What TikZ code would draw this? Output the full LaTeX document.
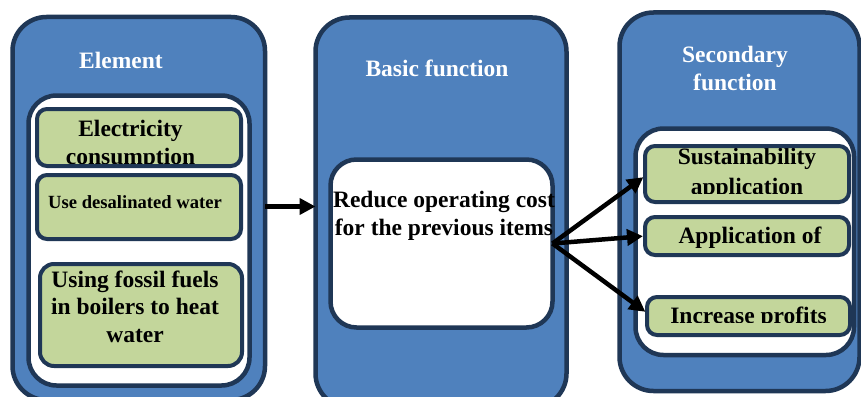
\documentclass[tikz,border=0pt]{standalone}
\usepackage{fontspec}
\setmainfont{Liberation Serif}
\usetikzlibrary{arrows.meta}
\definecolor{bluefill}{HTML}{4F81BD}
\definecolor{navy}{HTML}{1F3756}
\definecolor{greenfill}{HTML}{C3D69B}
\newcommand\bigtxt{\fontsize{23.5}{27.5}\selectfont\bfseries}
\newcommand\smalltxt{\fontsize{18.6}{22}\selectfont\bfseries}
\tikzset{
  panel/.style={draw=navy, line width=4.5pt, anchor=north west, inner sep=0pt, outer sep=0pt},
  bluebox/.style={panel, fill=bluefill, rounded corners=34pt},
  whitebox/.style={panel, fill=white, rounded corners=28pt},
  greenbox/.style={panel, line width=4pt, fill=greenfill, rounded corners=10pt},
  titletxt/.style={text=white, font=\bigtxt, align=center, inner sep=0pt, anchor=base},
  bodytxt/.style={text=black, font=\bigtxt, align=center, inner sep=0pt, anchor=base},
  smalltext/.style={text=black, font=\smalltxt, align=center, inner sep=0pt, anchor=base},
  conn/.style={line width=4.5pt, -{Triangle[length=16pt,width=16pt]}, black}
}
\begin{document}
\begin{tikzpicture}[x=1pt,y=-1pt]
\clip (0,0) rectangle (861,396);
\fill[white] (0,0) rectangle (861,396);

% ---- Element panel
\node[bluebox, minimum width=252.5pt, minimum height=383pt] (elem) at (12.5,17) {};
\node[titletxt] (elemT) at (121,68) {Element};
\node[whitebox, minimum width=221pt, minimum height=290pt] (elemIn) at (28.5,95.5) {};
\node[greenbox, minimum width=204pt, minimum height=57pt,
  path picture={\clip ([yshift=2pt]path picture bounding box.south west) rectangle (path picture bounding box.north east);
    \node[bodytxt, text depth=0pt] (g1t) at ([xshift=-8.5pt,yshift=-55pt]path picture bounding box.north) {Electricity\\[0.5pt]consumption};}] (g1) at (37,109) {};
\node[greenbox, minimum width=204pt, minimum height=64pt] (g2) at (37,175) {};
\node[smalltext] (g2t) at (135,208) {Use desalinated water};
\node[greenbox, minimum width=202pt, minimum height=102pt, rounded corners=14pt] (g3) at (40,264) {};
\node[bodytxt] (g3t) at (135,342) {Using fossil fuels\\in boilers to heat\\water};

% ---- Basic function panel
\node[bluebox, minimum width=251pt, minimum height=390pt] (basic) at (315.5,17.5) {};
\node[titletxt] (basicT) at (437,77) {Basic function};
\node[whitebox, minimum width=222pt, minimum height=168pt, rounded corners=26pt] (basicIn) at (330.5,159.5) {};
\node[bodytxt] (basicText) at (444,235) {Reduce operating cost\\for the previous items};

% ---- Secondary function panel
\node[bluebox, minimum width=240pt, minimum height=378.5pt] (sec) at (619.5,12.5) {};
\node[titletxt] (secT) at (735,90) {Secondary\\function};
\node[whitebox, minimum width=218.5pt, minimum height=226.5pt] (secIn) at (635.5,128.5) {};
\node[greenbox, minimum width=204pt, minimum height=56pt,
  path picture={\clip ([yshift=9pt]path picture bounding box.south west) rectangle (path picture bounding box.north east);
    \node[bodytxt] (s1t) at ([xshift=0pt,yshift=-48pt]path picture bounding box.north) {Sustainability\\[2.5pt]application};}] (s1) at (645,146) {};
\node[greenbox, minimum width=204pt, minimum height=38pt,
  path picture={\node[bodytxt] (s2t) at ([xshift=3pt,yshift=-26pt]path picture bounding box.north) {Application of};}] (s2) at (645,217) {};
\node[greenbox, minimum width=203pt, minimum height=38pt,
  path picture={\clip ([yshift=13pt]path picture bounding box.south west) rectangle (path picture bounding box.north east);
    \node[bodytxt] (s3t) at ([xshift=0pt,yshift=-26pt]path picture bounding box.north) {Increase profits};}] (s3) at (647,297) {};

% ---- connectors
\draw[conn] ([yshift=2pt]elem.east) -- ([yshift=2pt]elem.east -| basic.west);
\draw[conn, shorten >=2pt] (basicIn.east) -- ([yshift=-2pt]s1.west);
\draw[conn, shorten >=2pt] (basicIn.east) -- (s2.west);
\draw[conn, shorten >=2pt] (basicIn.east) -- ([yshift=3pt]s3.west);
\end{tikzpicture}
\end{document}
